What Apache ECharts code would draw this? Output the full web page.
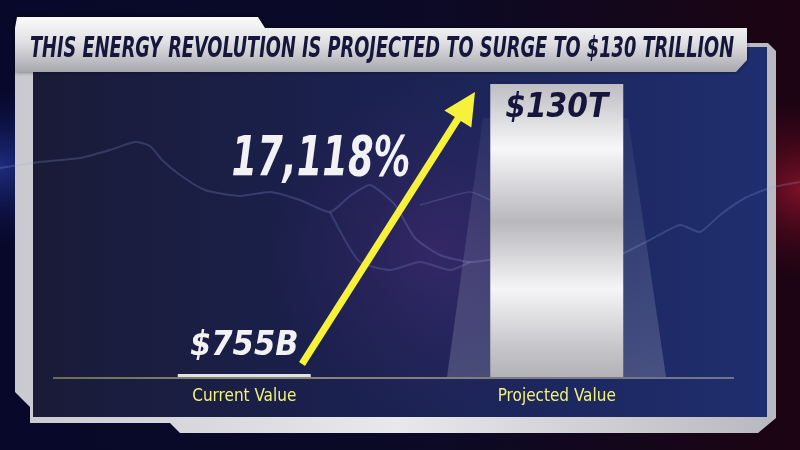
<!DOCTYPE html>
<html><head><meta charset="utf-8">
<script src="https://cdn.jsdelivr.net/npm/echarts@6/dist/echarts.min.js"></script>
<style>html,body{margin:0;padding:0;background:#0a0a28;}#c{width:800px;height:450px;}</style>
</head><body><div id="c"></div>
<script>
// ---- data ----
const categories = ['Current Value', 'Projected Value'];
const valuesTrillion = [0.755, 130];
const valueLabels = ['$755B', '$130T'];
const titleText = 'THIS ENERGY REVOLUTION IS PROJECTED TO SURGE TO $130 TRILLION';
const growthText = '17,118%';

const NARROW = '"DejaVu Sans Condensed", "Roboto", sans-serif';
const chart = echarts.init(document.getElementById('c'), null, {renderer: 'canvas'});

function lin(x0, y0, x1, y1, stops) {
  return new echarts.graphic.LinearGradient(x0, y0, x1, y1, stops.map(s => ({offset: s[0], color: s[1]})));
}
const silverV = lin(0, 0, 0, 1, [[0, '#fbfbfc'], [0.45, '#e1e1e5'], [1, '#a7a7ae']]);
const frameSilver = lin(0, 0, 1, 0, [[0, '#c9c9cf'], [0.5, '#e9e9ec'], [1, '#b8b8be']]);
const barMetal = lin(0, 0, 0, 1, [[0, '#bdbdc2'], [0.22, '#f7f7f9'], [0.47, '#b8b8bd'], [0.7, '#f5f5f7'], [0.9, '#c6c6ca'], [1, '#b2b2b7']]);

// arrow geometry (annotation)
function arrowPoints(tail, tip, w, hw, hl) {
  const dx = tip[0] - tail[0], dy = tip[1] - tail[1];
  const L = Math.hypot(dx, dy), ux = dx / L, uy = dy / L, nx = -uy, ny = ux;
  const neck = [tip[0] - ux * hl, tip[1] - uy * hl];
  return [
    [tail[0] + nx * w / 2, tail[1] + ny * w / 2],
    [neck[0] + nx * w / 2, neck[1] + ny * w / 2],
    [neck[0] + nx * hw / 2, neck[1] + ny * hw / 2],
    tip,
    [neck[0] - nx * hw / 2, neck[1] - ny * hw / 2],
    [neck[0] - nx * w / 2, neck[1] - ny * w / 2],
    [tail[0] - nx * w / 2, tail[1] - ny * w / 2]
  ];
}

const lightning1 = [[0,168],[40,162],[80,158],[110,150],[135,142],[150,146],[162,160],[180,175],[205,190],[240,196],[270,192],[300,200],[330,212],[350,196],[370,185],[395,205],[415,238],[440,255],[470,262],[500,258]];
const lightning2 = [[620,255],[650,240],[680,225],[700,232],[720,215],[745,198],[770,188],[800,182]];
const lightning3 = [[330,212],[345,240],[360,262],[390,270],[420,262],[450,270],[470,262]];
const lightning4 = [[420,205],[445,198],[470,192],[490,200]];

const option = {
  animation: false,
  grid: {left: 88, right: 87, top: 84, bottom: 73},
  xAxis: {
    type: 'category', data: categories,
    axisLine: {show: false}, axisTick: {show: false},
    axisLabel: {color: '#f3f37c', fontFamily: NARROW, fontSize: 17, margin: 11}
  },
  yAxis: {type: 'value', min: 0, max: 130, show: false, splitLine: {show: false}},
  series: [{
    type: 'bar', barWidth: 133, barMinHeight: 3, z: 5,
    data: [
      {value: valuesTrillion[0], itemStyle: {color: '#e2e2e6'},
       label: {position: 'top', distance: 11, color: '#f2f2f5', fontSize: 34}},
      {value: valuesTrillion[1], itemStyle: {color: barMetal},
       label: {position: 'insideTop', distance: 8, color: '#16163c', fontSize: 33}}
    ],
    label: {
      show: true,
      formatter: p => valueLabels[p.dataIndex],
      fontFamily: NARROW, fontWeight: 'bold', fontStyle: 'italic'
    }
  }],
  graphic: [
    // page background
    {type: 'rect', z: -100, shape: {x: 0, y: 0, width: 800, height: 450},
     style: {fill: lin(0, 0, 1, 0, [[0, '#07082a'], [0.55, '#0c0a26'], [1, '#1c0412']])}},
    {type: 'rect', z: -99, shape: {x: 0, y: 0, width: 800, height: 450},
     style: {fill: new echarts.graphic.RadialGradient(1.0, 0.42, 0.2, [{offset: 0, color: 'rgba(220,30,60,0.5)'}, {offset: 1, color: 'rgba(120,0,30,0)'}])}},
    {type: 'rect', z: -99, shape: {x: 0, y: 0, width: 800, height: 450},
     style: {fill: new echarts.graphic.RadialGradient(0.0, 0.37, 0.18, [{offset: 0, color: 'rgba(60,90,230,0.45)'}, {offset: 1, color: 'rgba(20,30,120,0)'}])}},
    // frame
    {type: 'polygon', z: -90, shape: {points: [[15,43],[768,43],[776,51],[776,418],[758,433],[180,433],[170,423],[30,423],[30,407],[15,392]]},
     style: {fill: frameSilver}},
    // panel
    {type: 'rect', z: -80, shape: {x: 33, y: 47, width: 734, height: 370},
     style: {fill: lin(0, 0, 1, 0, [[0, '#191b37'], [0.45, '#1b2150'], [1, '#1f2e6f']])}},
    {type: 'rect', z: -79, shape: {x: 33, y: 47, width: 734, height: 370},
     style: {fill: new echarts.graphic.RadialGradient(0.55, 0.55, 0.45, [{offset: 0, color: 'rgba(110,50,140,0.3)'}, {offset: 1, color: 'rgba(80,40,120,0)'}])}},
    // lightning
    {type: 'polyline', z: -70, shape: {points: lightning1, smooth: 0.2}, style: {stroke: 'rgba(150,170,235,0.22)', lineWidth: 2, fill: null}},
    {type: 'polyline', z: -70, shape: {points: lightning2, smooth: 0.2}, style: {stroke: 'rgba(150,170,235,0.22)', lineWidth: 2, fill: null}},
    {type: 'polyline', z: -70, shape: {points: lightning3, smooth: 0.2}, style: {stroke: 'rgba(150,170,235,0.2)', lineWidth: 2, fill: null}},
    {type: 'polyline', z: -70, shape: {points: lightning4, smooth: 0.2}, style: {stroke: 'rgba(150,170,235,0.2)', lineWidth: 1.5, fill: null}},
    // spotlight beam behind projected bar
    {type: 'polygon', z: -60, shape: {points: [[483,118],[628,118],[666,377],[447,377]]},
     style: {fill: lin(0, 0, 0, 1, [[0, 'rgba(200,200,220,0.06)'], [1, 'rgba(200,200,215,0.24)']])}},
    // baseline
    {type: 'rect', z: -50, shape: {x: 53, y: 377, width: 681, height: 2},
     style: {fill: lin(0, 0, 1, 0, [[0, '#6e6b55'], [0.3, '#8a8772'], [1, '#6f7488']])}},
    // title banner
    {type: 'polygon', z: 50, shape: {points: [[15,28],[17,17],[258,17],[265,28],[747,28],[747,60],[736,72],[15,72]]},
     style: {fill: silverV, shadowBlur: 4, shadowColor: 'rgba(0,0,0,0.5)'}},
    {type: 'text', z: 60, x: 382, y: 50, scaleX: 0.705, originX: 0, originY: 0,
     style: {text: titleText, x: 0, y: 0, align: 'center', verticalAlign: 'middle',
       fill: '#15163a', font: 'italic bold 28px ' + NARROW}},
    // growth annotation
    {type: 'text', z: 60, x: 321, y: 160, scaleX: 0.73, originX: 0, originY: 0,
     style: {text: growthText, x: 0, y: 0, align: 'center', verticalAlign: 'middle',
       fill: '#f2f2f5', font: 'italic bold 56px ' + NARROW, shadowBlur: 4, shadowColor: 'rgba(0,0,0,0.5)'}},
    {type: 'polygon', z: 60, shape: {points: arrowPoints([302, 364], [475, 92], 7, 32, 32)},
     style: {fill: '#f6f23c'}}
  ]
};
chart.setOption(option);
</script></body></html>
